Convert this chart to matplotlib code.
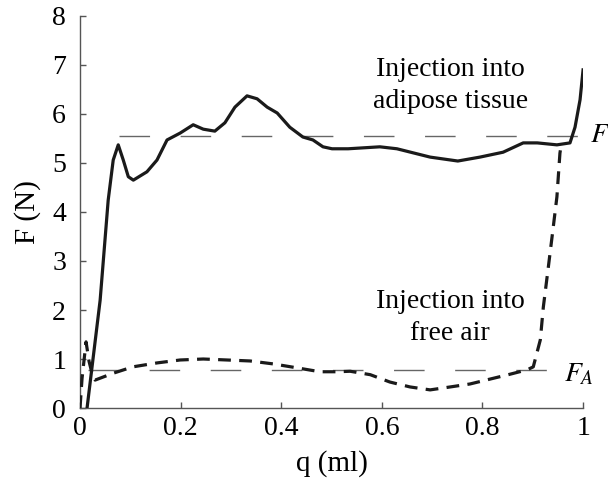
import matplotlib

matplotlib.use("Agg")
import matplotlib.pyplot as plt

# solid curve: injection into adipose tissue
tissue_q = [0.014, 0.04, 0.056, 0.066, 0.076, 0.086, 0.096, 0.106, 0.133, 0.153,
            0.173, 0.199, 0.225, 0.245, 0.268, 0.288, 0.308, 0.332, 0.352, 0.372,
            0.392, 0.417, 0.443, 0.463, 0.483, 0.501, 0.533, 0.596, 0.630, 0.696,
            0.751, 0.795, 0.841, 0.881, 0.909, 0.948, 0.974, 0.984, 0.994, 1.0]
tissue_f = [0.0, 2.2, 4.24, 5.06, 5.37, 5.06, 4.72, 4.65, 4.82, 5.06,
            5.47, 5.61, 5.78, 5.69, 5.65, 5.82, 6.14, 6.37, 6.31, 6.14,
            6.02, 5.73, 5.53, 5.47, 5.33, 5.29, 5.29, 5.33, 5.29, 5.12,
            5.04, 5.12, 5.22, 5.41, 5.41, 5.37, 5.41, 5.73, 6.29, 6.9]

# dashed curve: injection into free air
air_q = [0.0, 0.004, 0.012, 0.018, 0.026, 0.030, 0.066, 0.105, 0.153, 0.199,
         0.245, 0.292, 0.338, 0.384, 0.431, 0.477, 0.511, 0.537, 0.577, 0.616,
         0.656, 0.696, 0.736, 0.775, 0.815, 0.855, 0.889, 0.901, 0.915, 0.921,
         0.931, 0.940, 0.948, 0.954, 0.957]
air_f = [0.0, 0.6, 1.35, 0.95, 0.62, 0.57, 0.71, 0.84, 0.92, 0.98,
         1.0, 0.98, 0.96, 0.90, 0.82, 0.74, 0.74, 0.75, 0.68, 0.53,
         0.43, 0.37, 0.43, 0.49, 0.59, 0.69, 0.78, 0.84, 1.39, 2.06,
         2.88, 3.63, 4.31, 5.2, 5.4]

F_T = 5.55
F_A = 0.78
ft_span = [0.078, 1.0]
fa_span = [0.015, 0.934]

x_ticks = [0, 0.2, 0.4, 0.6, 0.8, 1]
x_labels = ["0", "0.2", "0.4", "0.6", "0.8", "1"]
y_ticks = list(range(0, 9))

plt.rcParams["font.family"] = ["Liberation Serif", "DejaVu Serif"]
plt.rcParams["mathtext.fontset"] = "stix"

fig = plt.figure(figsize=(6.08, 4.84), dpi=100)
ax = fig.add_axes([0.1316, 0.157, 0.8274, 0.810])

ax.plot(ft_span, [F_T, F_T], color="#666666", linewidth=1.0,
        dashes=(22, 22), zorder=1)
ax.plot(fa_span, [F_A, F_A], color="#666666", linewidth=1.0,
        dashes=(22, 22), zorder=1)

ax.plot(tissue_q, tissue_f, color="#1a1a1a", linewidth=2.3, zorder=3)
ax.plot(air_q, air_f, color="#1a1a1a", linewidth=2.3, dashes=(4, 2.6), zorder=3)

ax.text(1.014, F_T, "$F_T$", fontsize=20, va="center", ha="left", clip_on=False)
ax.text(0.962, F_A - 0.1, "$F_A$", fontsize=20, va="center", ha="left", clip_on=False)

ax.text(0.736, 6.58, "Injection into\nadipose tissue", fontsize=20,
        ha="center", va="center", linespacing=1.38)
ax.text(0.736, 1.84, "Injection into\nfree air", fontsize=20,
        ha="center", va="center", linespacing=1.38)

ax.set_xlim(0, 1)
ax.set_ylim(0, 8)
ax.set_xticks(x_ticks, labels=x_labels)
ax.set_yticks(y_ticks)
ax.tick_params(direction="in", length=4, width=1, labelsize=20, color="#555555")
ax.tick_params(axis="y", pad=10)
ax.tick_params(axis="x", pad=6)
ax.spines["top"].set_visible(False)
ax.spines["right"].set_visible(False)
for side in ["left", "bottom"]:
    ax.spines[side].set_color("#555555")
    ax.spines[side].set_linewidth(1.0)

ax.set_xlabel("q (ml)", fontsize=21, labelpad=6)
ax.set_ylabel("F (N)", fontsize=21, labelpad=8)

fig.savefig("out.png", dpi=100)
